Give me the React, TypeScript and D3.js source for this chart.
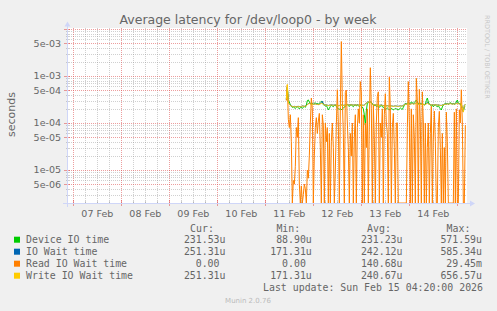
import React from 'react';
import * as d3 from 'd3';

// ---------- data (values in microseconds, 30-minute steps) ----------
const SERIES_START = new Date(2026, 1, 11, 10, 30);
const STEP_MINUTES = 30;

const deviceIO = [
  330, 571, 300, 280, 240, 225, 215, 222, 210, 205,
  215, 225, 210, 200, 212, 220, 205, 215, 225, 215,
  240, 300, 310, 280, 262, 255, 265, 250, 262, 270,
  255, 262, 250, 265, 275, 290, 280, 245, 240, 230,
  235, 215, 190, 205, 225, 240, 230, 222, 235, 240,
  225, 210, 200, 195, 205, 190, 200, 210, 215, 230,
  240, 245, 235, 225, 240, 245, 230, 222, 235, 240,
  230, 245, 235, 222, 240, 230, 220, 200, 150, 90,
  180, 262, 270, 275, 284, 270, 255, 241, 235, 240,
  225, 230, 222, 215, 230, 240, 222, 215, 205, 195,
  200, 209, 200, 190, 195, 205, 200, 189, 195, 205,
  200, 195, 190, 200, 209, 200, 195, 215, 240, 262,
  255, 262, 270, 255, 262, 280, 270, 262, 275, 290,
  309, 280, 262, 250, 262, 255, 262, 250, 241, 250,
  300, 340, 280, 250, 241, 230, 241, 222, 235, 241,
  230, 222, 235, 215, 200, 189, 220, 241, 250, 262,
  255, 262, 250, 262, 270, 262, 255, 262, 250, 262,
  280, 309, 270, 255, 262, 230, 200, 177, 220, 232,
];

const ioWait = [
  310, 585, 285, 255, 238, 232, 226, 224, 226, 224,
  222, 224, 226, 224, 222, 226, 232, 230, 226, 232,
  238, 248, 258, 262, 256, 252, 254, 250, 252, 256,
  252, 250, 248, 252, 260, 272, 290, 255, 246, 242,
  244, 240, 236, 240, 242, 244, 242, 240, 242, 244,
  240, 236, 234, 236, 240, 242, 240, 238, 240, 242,
  244, 248, 244, 242, 244, 248, 244, 242, 244, 246,
  242, 244, 242, 240, 244, 242, 240, 238, 242, 252,
  268, 278, 282, 286, 280, 268, 258, 250, 246, 244,
  242, 244, 240, 238, 240, 242, 238, 234, 232, 230,
  232, 234, 230, 228, 230, 232, 230, 227, 230, 232,
  230, 228, 227, 230, 232, 230, 232, 238, 248, 252,
  254, 257, 260, 254, 252, 258, 262, 255, 258, 262,
  268, 258, 252, 250, 254, 252, 254, 250, 248, 250,
  258, 275, 258, 252, 247, 244, 247, 242, 244, 247,
  244, 242, 244, 240, 238, 237, 242, 247, 250, 252,
  254, 257, 254, 257, 260, 257, 254, 257, 254, 257,
  262, 268, 260, 257, 260, 252, 212, 171, 238, 251,
];

const readIOWait = [
  300, 650, 120, 80, 150, 40, 0, 6, 5, 12,
  80, 50, 130, 5, 0, 4.6, 0, 3, 5, 4,
  0, 10, 6.7, 20, 100, 340, 200, 0, 20, 80,
  130, 60, 110, 160, 30, 0, 150, 90, 0, 100,
  40, 80, 0, 60, 0, 40, 100, 30, 0, 10,
  90, 510, 100, 0, 200, 5400, 300, 60, 0, 450,
  500, 100, 30, 0, 60, 20, 100, 0, 50, 150,
  0, 80, 200, 100, 760, 450, 0, 150, 0, 100,
  30, 200, 0, 100, 1500, 200, 0, 240, 50, 0,
  100, 370, 460, 0, 100, 50, 200, 0, 150, 420,
  100, 60, 0, 940, 200, 0, 80, 160, 30, 0,
  100, 100, 0, 0, 0, 0, 0, 0, 0, 0,
  0, 80, 760, 100, 0, 200, 0, 150, 50, 0,
  890, 300, 0, 520, 100, 0, 460, 100, 0, 100,
  0, 30, 100, 0, 60, 227, 0, 50, 180, 40,
  0, 0, 80, 177, 30, 0, 60, 0, 30, 0,
  170, 40, 0, 0, 0, 0, 0, 0, 170, 0,
  200, 0, 0, 190, 100, 510, 100, 0, 0, 90,
];

const writeIOWait = [
  320, 656, 280, 250, 235, 230, 225, 222, 225, 222,
  220, 222, 225, 222, 220, 225, 230, 228, 225, 230,
  235, 245, 255, 260, 255, 250, 252, 248, 250, 255,
  250, 248, 245, 250, 255, 260, 262, 250, 245, 240,
  242, 238, 235, 238, 240, 242, 240, 238, 240, 242,
  238, 235, 232, 235, 238, 240, 238, 236, 238, 240,
  242, 245, 242, 240, 242, 245, 242, 240, 242, 244,
  240, 242, 240, 238, 242, 240, 238, 236, 240, 250,
  265, 275, 280, 284, 278, 265, 255, 248, 245, 242,
  240, 242, 238, 236, 238, 240, 236, 232, 230, 228,
  230, 232, 228, 226, 228, 230, 228, 225, 228, 230,
  228, 226, 225, 228, 230, 228, 230, 236, 245, 250,
  252, 255, 258, 252, 250, 255, 258, 252, 255, 258,
  262, 255, 250, 248, 252, 250, 252, 248, 245, 248,
  255, 262, 255, 250, 245, 242, 245, 240, 242, 245,
  242, 240, 242, 238, 236, 235, 240, 245, 248, 250,
  252, 255, 252, 255, 258, 255, 252, 255, 252, 255,
  258, 262, 258, 255, 258, 250, 210, 171, 235, 251,
];

const yTickValues = [5e-3, 1e-3, 5e-4, 1e-4, 5e-5, 1e-5, 5e-6];
const yTickLabels = ['5e-03', '1e-03', '5e-04', '1e-04', '5e-05', '1e-05', '5e-06'];

const legendNames = ['Device IO time', 'IO Wait time', 'Read IO Wait time', 'Write IO Wait time'];
const legendColors = ['#00CC00', '#0066B3', '#FF8000', '#FFCC00'];
const legendCur = ['231.53u', '251.31u', '0.00', '251.31u'];
const legendMin = ['88.90u', '171.31u', '0.00', '171.31u'];
const legendAvg = ['231.23u', '242.12u', '140.68u', '240.67u'];
const legendMax = ['571.59u', '585.34u', '29.45m', '656.57u'];
const legendHeaders = ['Cur:', 'Min:', 'Avg:', 'Max:'];

const TITLE = 'Average latency for /dev/loop0 - by week';
const LAST_UPDATE = 'Last update: Sun Feb 15 04:20:00 2026';

// ---------- layout ----------
const W = 497, H = 311;
const PL = 67, PR = 467, PT = 28, PB = 203;
const T0 = new Date(2026, 1, 6, 20, 50);
const T1 = new Date(2026, 1, 15, 4, 50);
const YMIN = 1.99e-6, YMAX = 1.049e-2;

const FONT = '"DejaVu Sans", sans-serif';
const MONO = '"DejaVu Sans Mono", monospace';
const TEXT = '#666666';
const GRID = 'rgba(143,143,143,0.42)';
const MGRID = 'rgba(222,79,79,0.55)';
const AXIS = '#CFD6F8';

export default function App() {
  const x = d3.scaleTime().domain([T0, T1]).range([PL, PR]);
  const y = d3.scaleLog().domain([YMIN, YMAX]).range([PB, PT]).clamp(true);

  const times = deviceIO.map((_, i) => new Date(SERIES_START.getTime() + i * STEP_MINUTES * 60000));
  const yv = (v: number) => (v <= 0 ? PB : y(v * 1e-6));
  const mkLine = (arr: number[]) =>
    d3.line<number>().x((_, i) => x(times[i])).y((v) => yv(v))(arr) || '';

  // horizontal grid
  const hMinor: number[] = [];
  const hMajor: number[] = [];
  for (let d = -6; d <= -2; d++) {
    for (let k = 1; k <= 9; k++) {
      const v = k * Math.pow(10, d);
      if (v <= YMIN || v >= YMAX) continue;
      if (k === 1 || k === 5) hMajor.push(v);
      else hMinor.push(v);
    }
  }
  const snap = (p: number) => Math.round(p) + 0.5;

  const sixHours = d3.timeHour.every(6)!.range(T0, T1);
  const vMinor = sixHours.filter((t) => t.getHours() !== 0);
  const vMajor = sixHours.filter((t) => t.getHours() === 0);
  const dayLabels = d3.timeDay.range(T0, T1).map((t) => new Date(t.getTime() + 12 * 3600000)).filter((t) => t > T0 && t < T1);
  const fmt = d3.timeFormat('%d %b');

  const rowY = (i: number) => 239.7 + i * 12;
  const charW = 5.97;
  const colEnds = [225.5, 311.8, 402.5, 482];
  const valEnd = (s: string, col: number) => (/[a-zA-Z]$/.test(s) ? colEnds[col] : colEnds[col] - charW);

  return (
    <svg width={W} height={H} style={{ position: 'absolute', left: 0, top: 0 }} xmlns="http://www.w3.org/2000/svg">
      <rect x={0} y={0} width={W} height={H} fill="#F0F0F0" />
      <rect x={PL} y={PT} width={PR - PL} height={PB - PT} fill="#FFFFFF" />

      {/* grid */}
      <g strokeWidth={1} strokeDasharray="1,1" shapeRendering="crispEdges">
        {hMinor.map((v, i) => (
          <line key={'hm' + i} x1={PL} x2={PR} y1={snap(y(v))} y2={snap(y(v))} stroke={GRID} />
        ))}
        {vMinor.map((t, i) => (
          <line key={'vm' + i} x1={snap(x(t))} x2={snap(x(t))} y1={PT} y2={PB} stroke={GRID} />
        ))}
        {hMajor.map((v, i) => (
          <line key={'hM' + i} x1={PL} x2={PR} y1={snap(y(v))} y2={snap(y(v))} stroke={MGRID} />
        ))}
        {vMajor.map((t, i) => (
          <line key={'vM' + i} x1={snap(x(t))} x2={snap(x(t))} y1={PT} y2={PB} stroke={MGRID} />
        ))}
      </g>
      {/* tick marks */}
      <g strokeWidth={1} shapeRendering="crispEdges">
        {hMinor.map((v, i) => (
          <line key={'thm' + i} x1={PL - 1} x2={PL + 2} y1={snap(y(v))} y2={snap(y(v))} stroke={GRID} />
        ))}
        {hMajor.map((v, i) => (
          <line key={'thM' + i} x1={PL - 3} x2={PL + 3} y1={snap(y(v))} y2={snap(y(v))} stroke={MGRID} />
        ))}
        {vMinor.map((t, i) => (
          <line key={'tvm' + i} x1={snap(x(t))} x2={snap(x(t))} y1={PB - 2} y2={PB + 1} stroke={GRID} />
        ))}
        {vMajor.map((t, i) => (
          <line key={'tvM' + i} x1={snap(x(t))} x2={snap(x(t))} y1={PB - 3} y2={PB + 3} stroke={MGRID} />
        ))}
      </g>

      {/* series */}
      <g fill="none" strokeWidth={1} strokeLinejoin="round">
        <path d={mkLine(deviceIO)} stroke={legendColors[0]} />
        <path d={mkLine(ioWait)} stroke={legendColors[1]} />
        <path d={mkLine(readIOWait)} stroke={legendColors[2]} />
        <path d={mkLine(writeIOWait)} stroke={legendColors[3]} />
      </g>

      {/* axes */}
      <g shapeRendering="crispEdges">
        <line x1={PL - 4} x2={PR + 3} y1={PB + 0.5} y2={PB + 0.5} stroke={AXIS} />
        <line x1={PL + 0.5} x2={PL + 0.5} y1={PB + 4} y2={PT - 2} stroke={AXIS} />
      </g>
      <path d={`M${PR + 3},${PB - 2.5} L${PR + 8},${PB + 0.5} L${PR + 3},${PB + 3.5} Z`} fill={AXIS} />
      <path d={`M${PL - 2.5},${PT - 1.5} L${PL + 0.5},${PT - 6.5} L${PL + 3.5},${PT - 1.5} Z`} fill={AXIS} />

      {/* title */}
      <text x={248} y={24} textAnchor="middle" fontFamily={FONT} fontSize={12.5} fill={TEXT}>{TITLE}</text>

      {/* y axis labels */}
      {yTickValues.map((v, i) => (
        <text key={'yl' + i} x={61} y={y(v) + 3.4} textAnchor="end" fontFamily={FONT} fontSize={9.5} fill={TEXT}>
          {yTickLabels[i]}
        </text>
      ))}
      <text transform="translate(15,114.5) rotate(-90)" textAnchor="middle" fontFamily={FONT} fontSize={11} fill={TEXT}>seconds</text>

      {/* x axis labels */}
      {dayLabels.map((t, i) => (
        <text key={'xl' + i} x={x(t)} y={216.5} textAnchor="middle" fontFamily={FONT} fontSize={9.5} fill={TEXT}>
          {fmt(t)}
        </text>
      ))}

      {/* watermark */}
      <text transform="translate(485,15) rotate(90)" fontFamily={FONT} fontSize={6.5} fill="#C8C8C8">RRDTOOL / TOBI OETIKER</text>

      {/* legend */}
      <g fontFamily={MONO} fontSize={9.9} fill={TEXT}>
        {legendHeaders.map((h, c) => (
          <text key={'h' + c} x={colEnds[c] - 2 * charW + 0.3} y={231.8} textAnchor="end">{h}</text>
        ))}
        {legendNames.map((n, i) => (
          <g key={'lg' + i}>
            <rect x={14} y={rowY(i) - 3} width={6} height={6} fill={legendColors[i]} />
            <text x={26} y={rowY(i) + 3.5}>{n}</text>
            {[legendCur[i], legendMin[i], legendAvg[i], legendMax[i]].map((s, c) => (
              <text key={'v' + c} x={valEnd(s, c)} y={rowY(i) + 3.5} textAnchor="end">{s}</text>
            ))}
          </g>
        ))}
        <text x={483} y={291.2} textAnchor="end">{LAST_UPDATE}</text>
      </g>
      <text x={248} y={303} textAnchor="middle" fontFamily={FONT} fontSize={7} fill="#BBBBBB">Munin 2.0.76</text>
    </svg>
  );
}
